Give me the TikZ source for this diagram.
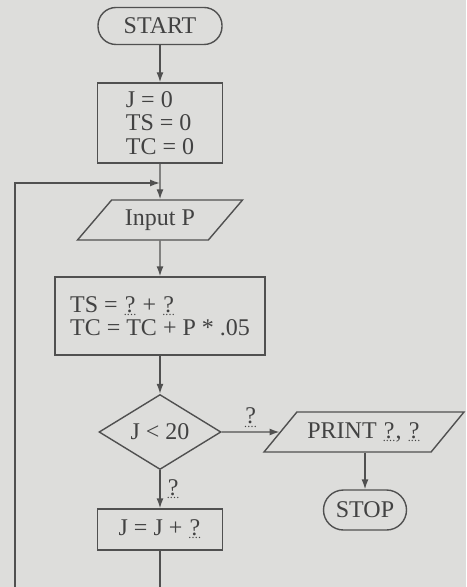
\documentclass[tikz,border=0pt]{standalone}
\usepackage{fontspec}
\setmainfont{Liberation Serif}
\usepackage{tikz}
\usetikzlibrary{shapes.geometric, arrows.meta, positioning, calc}
\definecolor{fcpaper}{HTML}{DDDDDB}
\definecolor{fcline}{HTML}{505050}
\definecolor{fctext}{HTML}{424242}

% question mark with a dotted line under it
\newcommand{\qblank}{\leavevmode\vtop{\offinterlineskip\hbox to 6.5pt{\hss ?\hss}\kern 0.8pt\hbox to 6.5pt{\fontsize{6}{6}\selectfont\leaders\hbox to 1.6pt{\hss.\hss}\hfill}}}

\begin{document}
\begin{tikzpicture}[x=0.5pt, y=-0.5pt,
    every node/.style={font=\fontsize{12}{11.6}\selectfont, text=fctext},
    term/.style={draw=fcline, line width=0.7pt, rounded corners=9pt, minimum height=18.5pt},
    box/.style={draw=fcline, line width=0.7pt, align=left},
    io/.style={trapezium, trapezium left angle=45, trapezium right angle=135, draw=fcline, line width=0.7pt, trapezium stretches body, minimum height=20pt},
    decide/.style={diamond, draw=fcline, line width=0.7pt, aspect=1.63, inner sep=0pt},
    flow/.style={draw=fcline, line width=0.7pt, -{Latex[length=5pt, width=3.5pt]}}]
    % Paper
    \fill[fcpaper] (0,0) rectangle (466,587);
    \clip (0,0) rectangle (466,587);

    % Main column
    \node[term, minimum width=62pt] (start) at (160,26) {START};
    \node[box, minimum width=62.5pt, minimum height=40pt] (init) at (160,123) {J = 0\\TS = 0\\TC = 0};
    \node[io, minimum width=82.5pt] (input) at (160,220) {Input P};
    \node[box, minimum width=105pt, minimum height=39pt] (calc) at (160,316) {TS = \qblank{} + \qblank\\TC = TC + P * .05};
    \node[decide, minimum width=61pt, minimum height=37.5pt] (test) at (160,432) {J < 20};
    \node[box, minimum width=62.5pt, minimum height=20.5pt] (upd) at (160,529.5) {J = J + \qblank};

    % Exit branch
    \node[io, minimum width=100pt] (print) at (364,432) {PRINT \qblank, \qblank};
    \node[term, minimum width=41.5pt, minimum height=20pt, rounded corners=10pt] (stop) at (365,510) {STOP};

    % Loop points
    \coordinate (join) at (160,183);
    \coordinate (corner) at (15,600);

    % Connectors
    \draw[flow] (start) -- (init);
    \draw[flow] (init) -- (input);
    \draw[flow] (input) -- (calc);
    \draw[flow] (calc) -- (test);
    \draw[flow] (test) -- node[above, inner sep=2pt] {\qblank} (print);
    \draw[flow] (test) -- node[right, inner sep=3pt] {\qblank} (upd);
    \draw[flow] (print.south -| stop) -- (stop);
    \draw[flow] (upd.south) |- (corner) |- (join);
\end{tikzpicture}
\end{document}
